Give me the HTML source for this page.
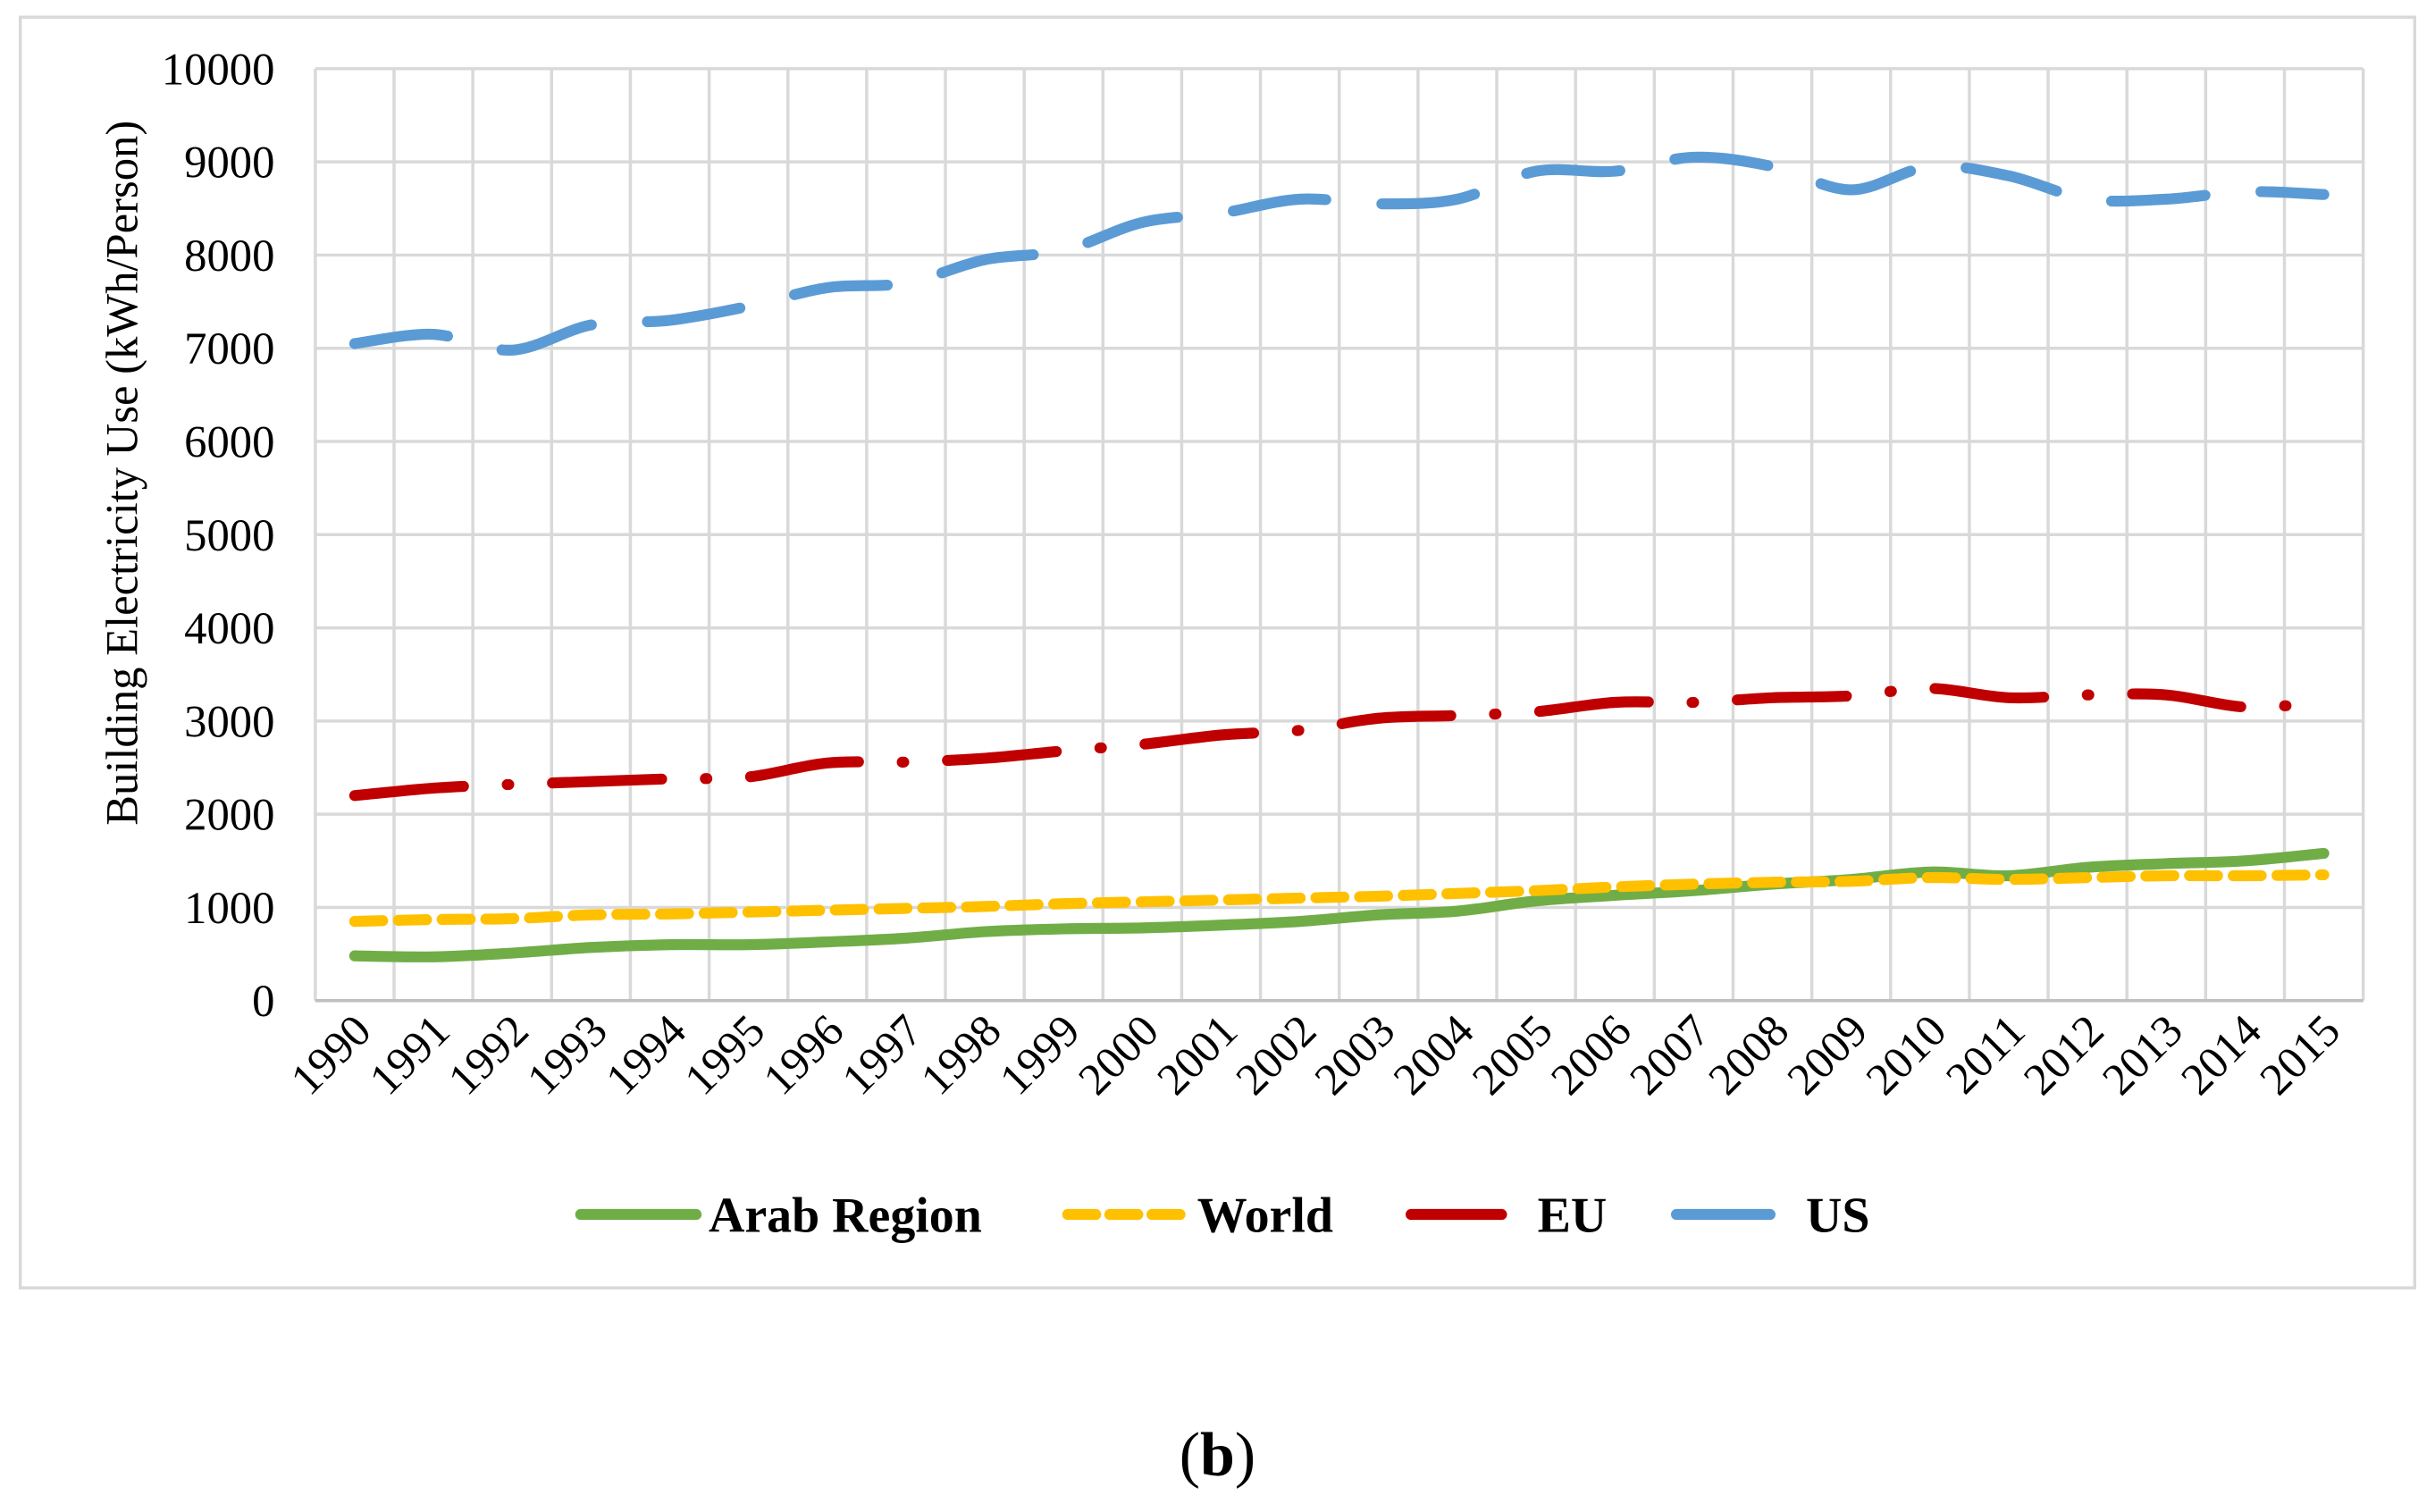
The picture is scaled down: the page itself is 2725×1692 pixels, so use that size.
<!DOCTYPE html>
<html><head><meta charset="utf-8"><style>
html,body{margin:0;padding:0;background:#fff;}
svg{display:block;font-family:"Liberation Serif",serif;}
</style></head><body>
<svg id="chart" width="2725" height="1692" viewBox="0 0 1560 968.6" preserveAspectRatio="none">
<rect x="13" y="11" width="1534" height="814" fill="#fff" stroke="#d9d9d9" stroke-width="2"/>
<g id="grid"></g>
<g id="yticks"></g>
<g id="xticks"></g>
<g id="series"></g>
<text x="0" y="0" transform="translate(88,303) rotate(-90)" text-anchor="middle" font-size="29" fill="#000">Building Electricity Use (kWh/Person)</text>
<g>
<g><line x1="372" y1="778" x2="446" y2="778" stroke="#70ad47" stroke-width="7" stroke-linecap="round"/><text x="454" y="789" font-size="32" font-weight="bold">Arab Region</text></g>
<g><line x1="684" y1="778" x2="760" y2="778" stroke="#ffc000" stroke-width="7" stroke-dasharray="18 9" stroke-linecap="round"/><text x="767" y="789" font-size="32" font-weight="bold">World</text></g>
<g><line x1="904" y1="778" x2="962" y2="778" stroke="#c00000" stroke-width="7" stroke-linecap="round"/><text x="985" y="789" font-size="32" font-weight="bold">EU</text></g>
<g><line x1="1074" y1="778" x2="1134" y2="778" stroke="#5b9bd5" stroke-width="7" stroke-linecap="round"/><text x="1157" y="789" font-size="32" font-weight="bold">US</text></g>
</g>
<text x="780" y="945" text-anchor="middle" font-size="40">(<tspan font-weight="bold">b</tspan>)</text>
</svg>
<script>
const years = ["1990","1991","1992","1993","1994","1995","1996","1997","1998","1999","2000","2001","2002","2003","2004","2005","2006","2007","2008","2009","2010","2011","2012","2013","2014","2015"];
const usValues = [7050,7150,6980,7250,7300,7450,7650,7700,7950,8050,8350,8450,8600,8550,8600,8900,8900,9050,8950,8700,8950,8850,8600,8600,8680,8650];
const euValues = [2200,2280,2320,2350,2380,2400,2550,2560,2600,2680,2750,2850,2900,3030,3060,3100,3200,3200,3250,3270,3350,3250,3280,3280,3150,3200];
const worldValues = [850,870,880,920,930,950,970,990,1010,1040,1060,1080,1100,1120,1150,1180,1220,1250,1270,1280,1320,1300,1320,1340,1340,1350];
const arabValues = [480,470,510,570,600,600,630,670,740,770,780,810,850,920,960,1070,1130,1180,1250,1300,1380,1340,1430,1470,1500,1580];
const yTicks = [0,1000,2000,3000,4000,5000,6000,7000,8000,9000,10000];

const NS="http://www.w3.org/2000/svg";
const L=202,R=1514,T=44,B=641,YMAX=10000;
const bw=(R-L)/years.length;
const xPos=i=>L+bw*(i+0.5);
const yPos=v=>B-(v/YMAX)*(B-T);
function mk(tag,attrs,parent){const e=document.createElementNS(NS,tag);for(const k in attrs)e.setAttribute(k,attrs[k]);parent.appendChild(e);return e;}
const grid=document.getElementById('grid'),yt=document.getElementById('yticks'),xt=document.getElementById('xticks'),ser=document.getElementById('series');
yTicks.forEach(v=>{
  const ln=mk('line',{x1:L,x2:R,y1:yPos(v),y2:yPos(v),stroke:'#d9d9d9','stroke-width':2},grid);
  
  
  const t=mk('text',{x:176,y:yPos(v)+10,'text-anchor':'end','font-size':29},yt);
  t.textContent=v;
  
  
});
for(let i=0;i<=years.length;i++){
  const ln=mk('line',{x1:L+bw*i,x2:L+bw*i,y1:T,y2:B,stroke:'#d9d9d9','stroke-width':2},grid);
  
  
}
const ax=mk('line',{x1:L,x2:R,y1:B,y2:B,stroke:'#bfbfbf','stroke-width':2},grid);


years.forEach((y,i)=>{
  const x=xPos(i)+12,yy=662;
  const t=mk('text',{x:x,y:yy,'text-anchor':'end','font-size':29,transform:`rotate(-45 ${x} ${yy})`},xt);
  t.textContent=y;
  
  
});
function smooth(vals){
  const p=vals.map((v,i)=>[xPos(i),yPos(v)]);
  let d=`M${p[0][0]},${p[0][1]}`;
  for(let i=0;i<p.length-1;i++){
    const p0=p[i-1]||p[i],p1=p[i],p2=p[i+1],p3=p[i+2]||p2;
    const c1=[p1[0]+(p2[0]-p0[0])/6,p1[1]+(p2[1]-p0[1])/6];
    const c2=[p2[0]-(p3[0]-p1[0])/6,p2[1]-(p3[1]-p1[1])/6];
    d+=` C${c1[0]},${c1[1]} ${c2[0]},${c2[1]} ${p2[0]},${p2[1]}`;
  }
  return d;
}
const defs=[[arabValues,'#70ad47','none','series-arab-region'],[worldValues,'#ffc000','18 10','series-world'],[euValues,'#c00000','70 28 1 28','series-eu'],[usValues,'#5b9bd5','60 36','series-us']];
defs.forEach(([vals,col,dash,name])=>{
  const p=mk('path',{d:smooth(vals),fill:'none',stroke:col,'stroke-width':7,'stroke-dasharray':dash,'stroke-linecap':'round'},ser);
  
  
});
</script>
</body></html>
